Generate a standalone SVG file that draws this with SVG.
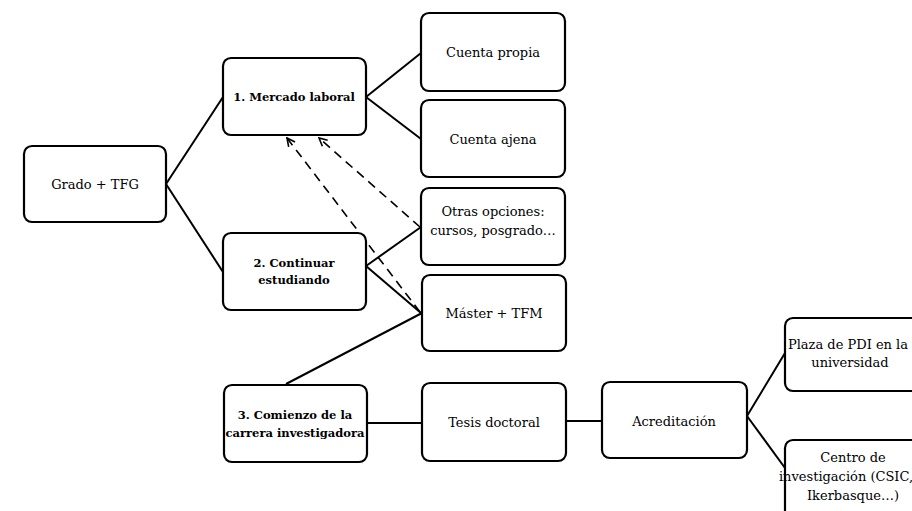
<svg xmlns="http://www.w3.org/2000/svg" width="912" height="511" viewBox="0 0 912 511">
<defs>
<style>
.box{fill:#fff;stroke:#000;stroke-width:2.2}
text{font-family:'DejaVu Serif','Liberation Serif',serif;font-size:13px;fill:#000;text-anchor:middle}
.b{font-weight:bold;font-size:11.5px}
.c{stroke:#000;stroke-width:2;fill:none}
.d{stroke:#000;stroke-width:1.6;fill:none;stroke-dasharray:9 6}
</style>
<marker id="ah" markerWidth="10" markerHeight="10" refX="9" refY="5" orient="auto" markerUnits="userSpaceOnUse">
<path d="M1,1 L9,5 L1,9" fill="none" stroke="#000" stroke-width="1.6"/>
</marker>
</defs>
<rect width="912" height="511" fill="#fff"/>
<g id="connectors">
<line class="c" x1="166" y1="184" x2="223" y2="97"/>
<line class="c" x1="166" y1="184" x2="223" y2="272"/>
<line class="c" x1="366" y1="97" x2="421" y2="53"/>
<line class="c" x1="366" y1="97" x2="421" y2="139"/>
<line class="c" x1="366" y1="266" x2="421" y2="227"/>
<line class="c" x1="366" y1="266" x2="421" y2="313"/>
<line class="c" x1="286" y1="384" x2="422" y2="313"/>
<line class="c" x1="367" y1="423" x2="422" y2="423"/>
<line class="c" x1="566" y1="421" x2="602" y2="421"/>
<line class="c" x1="747" y1="416" x2="785" y2="353"/>
<line class="c" x1="747" y1="416" x2="785" y2="468"/>
<line class="d" x1="420" y1="227" x2="319" y2="138" marker-end="url(#ah)"/>
<line class="d" x1="420" y1="312" x2="287" y2="138" marker-end="url(#ah)"/>
</g>
<g id="grado"><rect class="box" x="24" y="146" width="142" height="76" rx="8"/><text x="95" y="189">Grado + TFG</text></g>
<g id="mercado"><rect class="box" x="223" y="58" width="143" height="77" rx="8"/><text class="b" x="294" y="101">1. Mercado laboral</text></g>
<g id="continuar"><rect class="box" x="223" y="233" width="143" height="77" rx="8"/><text class="b" x="294" y="267">2. Continuar</text><text class="b" x="294" y="284">estudiando</text></g>
<g id="comienzo"><rect class="box" x="224" y="385" width="143" height="77" rx="8"/><text class="b" x="295" y="419">3. Comienzo de la</text><text class="b" x="295" y="437">carrera investigadora</text></g>
<g id="propia"><rect class="box" x="421" y="13" width="144" height="78" rx="8"/><text x="493" y="57">Cuenta propia</text></g>
<g id="ajena"><rect class="box" x="421" y="100" width="144" height="77" rx="8"/><text x="493" y="144">Cuenta ajena</text></g>
<g id="otras"><rect class="box" x="421" y="188" width="144" height="77" rx="8"/><text x="493" y="216">Otras opciones:</text><text x="493" y="235">cursos, posgrado…</text></g>
<g id="master"><rect class="box" x="422" y="275" width="144" height="76" rx="8"/><text x="494" y="318">Máster + TFM</text></g>
<g id="tesis"><rect class="box" x="422" y="383" width="144" height="78" rx="8"/><text x="494" y="427">Tesis doctoral</text></g>
<g id="acreditacion"><rect class="box" x="602" y="382" width="145" height="76" rx="8"/><text x="674" y="426">Acreditación</text></g>
<g id="plaza"><rect class="box" x="785" y="318" width="145" height="73" rx="8"/><text x="848" y="349">Plaza de PDI en la</text><text x="850" y="367">universidad</text></g>
<g id="centro"><rect class="box" x="785" y="440" width="145" height="90" rx="8"/><text x="853" y="462">Centro de</text><text font-size="11.5" x="846" y="481">investigación (CSIC,</text><text x="853" y="500">Ikerbasque…)</text></g>
</svg>
